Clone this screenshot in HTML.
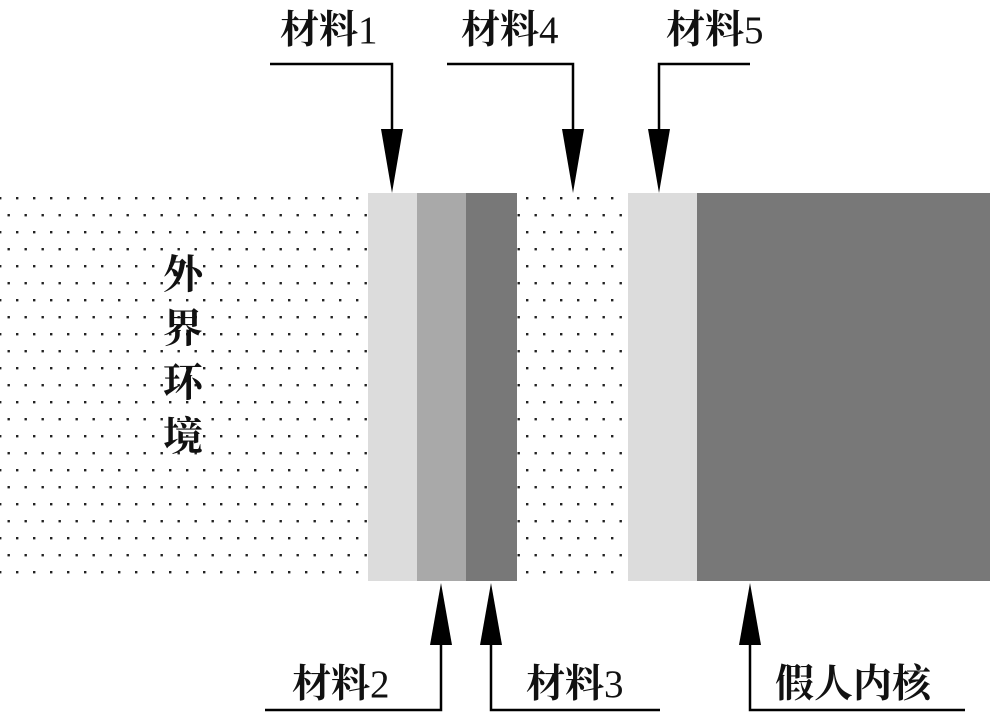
<!DOCTYPE html>
<html><head><meta charset="utf-8"><style>
html,body{margin:0;padding:0;background:#fff;}
svg{display:block;}
text{font-family:"Liberation Serif","Noto Serif CJK SC",serif;fill:#111;font-weight:bold;}
tspan.n{font-weight:normal;}
</style></head><body>
<svg width="1000" height="719" viewBox="0 0 1000 719" xmlns="http://www.w3.org/2000/svg">
<defs>
<pattern id="dots" x="16" y="197" width="17" height="34" patternUnits="userSpaceOnUse">
<rect x="0" y="0" width="2.4" height="2.4" fill="#222"/>
<rect x="8.5" y="17" width="2.4" height="2.4" fill="#222"/>
</pattern>
</defs>
<rect x="0" y="193" width="368" height="388" fill="url(#dots)"/>
<rect x="517" y="193" width="111" height="388" fill="url(#dots)"/>
<rect x="368" y="193" width="49" height="388" fill="#dcdcdc"/>
<rect x="417" y="193" width="49" height="388" fill="#a9a9a9"/>
<rect x="466" y="193" width="51" height="388" fill="#787878"/>
<rect x="628" y="193" width="69" height="388" fill="#dcdcdc"/>
<rect x="697" y="193" width="293" height="388" fill="#787878"/>
<g font-size="40">
<text x="163" y="288">外</text>
<text x="163" y="342">界</text>
<text x="163" y="396">环</text>
<text x="163" y="450">境</text>
</g>
<g stroke="#000" stroke-width="2.5" fill="none">
<polyline points="270,64 392,64 392,140"/>
<polyline points="447,64 573,64 573,140"/>
<polyline points="750,64 659,64 659,140"/>
<polyline points="265,710 441,710 441,640"/>
<polyline points="660,710 491,710 491,640"/>
<polyline points="965,710 750,710 750,640"/>
</g>
<g fill="#000">
<polygon points="381,129 403,129 392,193"/>
<polygon points="562,129 584,129 573,193"/>
<polygon points="648,129 670,129 659,193"/>
<polygon points="430,645 452,645 441,583"/>
<polygon points="480,645 502,645 491,583"/>
<polygon points="739,645 761,645 750,583"/>
</g>
<g font-size="39">
<text x="280" y="43">材料<tspan class="n">1</tspan></text>
<text x="461" y="43">材料<tspan class="n">4</tspan></text>
<text x="666" y="43">材料<tspan class="n">5</tspan></text>
<text x="292" y="697">材料<tspan class="n">2</tspan></text>
<text x="526" y="697">材料<tspan class="n">3</tspan></text>
<text x="775" y="697">假人内核</text>
</g>
</svg>
</body></html>
